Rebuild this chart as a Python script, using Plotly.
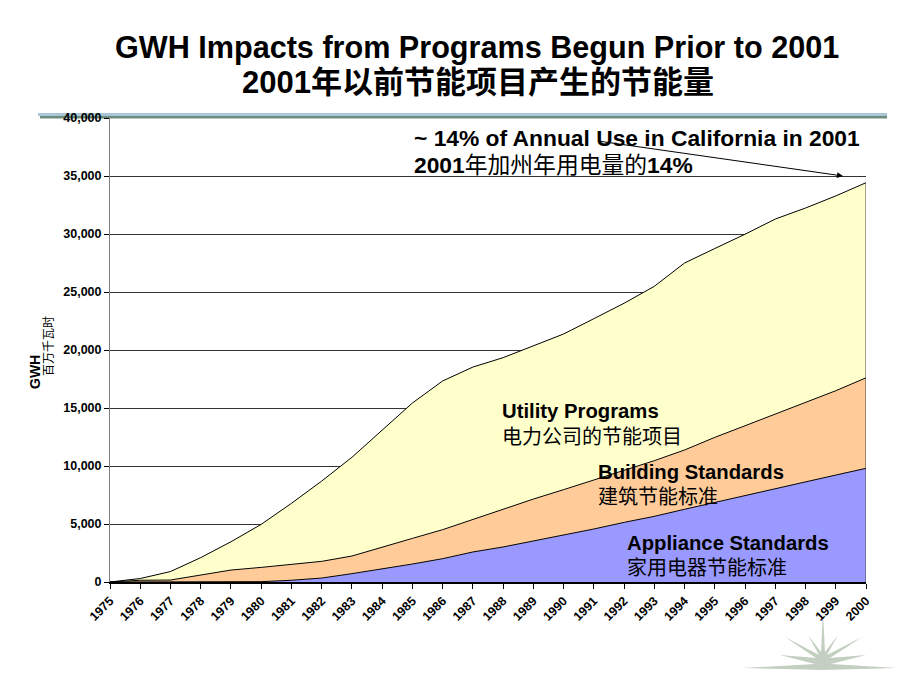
import plotly.graph_objects as go

years = list(range(1975, 2001))
appliance = [0, 0, 0, 0, 0, 30, 150, 340, 720, 1120, 1550, 2010, 2590, 3020, 3530,
             4050, 4570, 5140, 5660, 6270, 6870, 7470, 8050, 8620, 9220, 9800]
building = [0, 150, 170, 600, 1030, 1230, 1400, 1440, 1520, 1900, 2210, 2500, 2810,
            3280, 3620, 3910, 4220, 4490, 4800, 5110, 5600, 6000, 6430, 6870, 7270, 7800]
utility = [0, 150, 730, 1500, 2440, 3710, 5230, 6920, 8510, 10080, 11670, 12820, 13130,
           13040, 13220, 13420, 13910, 14400, 15030, 16120, 16280, 16510, 16810, 16750,
           16790, 16820]
y_ticks = [0, 5000, 10000, 15000, 20000, 25000, 30000, 35000, 40000]

FONT = "Liberation Sans, Arial, Noto Sans CJK SC, sans-serif"

W, H = 920, 690
L, R, T, B = 110, 866, 118, 582


def px(x, y):
    return (x - L) / (R - L), (B - y) / (B - T)


fig = go.Figure()
series = [
    ("Appliance Standards", appliance, "#9999FF"),
    ("Building Standards", building, "#FFCC99"),
    ("Utility Programs", utility, "#FFFFCC"),
]
for name, vals, col in series:
    fig.add_trace(go.Scatter(
        x=years, y=vals, name=name, mode="lines", stackgroup="one",
        fillcolor=col, line=dict(color="black", width=1), hoverinfo="skip"))

total_last = appliance[-1] + building[-1] + utility[-1]
fig.add_trace(go.Scatter(x=[years[-1], years[-1]], y=[0, total_last], mode="lines",
                         line=dict(color="#444444", width=1), hoverinfo="skip"))

shapes = []
# decorative top rule
x0, y0 = px(38, 113)
x1, y1 = px(887, 116)
shapes.append(dict(type="rect", xref="paper", yref="paper", x0=x0, x1=x1, y0=y0, y1=y1,
                   fillcolor="#A9C7D6", line=dict(width=0), layer="below"))
x0, y0 = px(40, 116)
x1, y1 = px(887, 118.5)
shapes.append(dict(type="rect", xref="paper", yref="paper", x0=x0, x1=x1, y0=y0, y1=y1,
                   fillcolor="#6E8C7C", line=dict(width=0), layer="below"))

# starburst decoration
pts = [(742, 668), (815, 664), (780, 655), (816, 658), (785, 637), (819, 655),
       (808, 635), (821, 652), (823, 612), (825, 652), (838, 635), (827, 655),
       (862, 637), (830, 658), (866, 655), (831, 664), (897, 668), (823, 670)]
path = ""
for i, (a, b) in enumerate(pts):
    u, v = px(a, b)
    path += ("M" if i == 0 else "L") + f"{u:.5f},{v:.5f} "
path += "Z"
shapes.append(dict(type="path", xref="paper", yref="paper", path=path,
                   fillcolor="#C3CFC0", line=dict(width=0), layer="below"))

ann = []


def text(x, y, s, size, anchor="left", angle=0):
    u, v = px(x, y)
    ann.append(dict(xref="paper", yref="paper", x=u, y=v, text=s, showarrow=False,
                    xanchor=anchor, yanchor="middle", textangle=angle,
                    font=dict(family=FONT, size=size, color="black")))


text(477, 47, "<b>GWH Impacts from Programs Begun Prior to 2001</b>", 30.6, "center")
text(478, 83, "<b>2001年以前节能项目产生的节能量</b>", 31, "center")
text(412, 138, "<b>~ 14% of Annual Use in California in 2001</b>", 22.8)
text(412, 165, "<b>2001</b>年加州年用电量的<b>14%</b>", 22.8)
text(500, 411, "<b>Utility Programs</b>", 20.3)
text(500, 437, "电力公司的节能项目", 20)
text(596, 472, "<b>Building Standards</b>", 20.3)
text(596, 497, "建筑节能标准", 20)
text(625, 543, "<b>Appliance Standards</b>", 20.3)
text(625, 568, "家用电器节能标准", 20)
text(35, 372, "<b>GWH</b>", 14, "center", -90)
text(49, 346, "百万千瓦时", 12, "center", -90)

hx, hy = px(843, 176)
ann.append(dict(xref="paper", yref="paper", x=hx, y=hy, axref="pixel", ayref="pixel",
                ax=598 - 843, ay=141 - 176, text="", showarrow=True, arrowhead=2,
                arrowsize=1.2, arrowwidth=1, arrowcolor="black"))

fig.update_layout(
    width=W, height=H, autosize=False,
    margin=dict(l=L, r=W - R, t=T, b=H - B, pad=0),
    paper_bgcolor="white", plot_bgcolor="rgba(0,0,0,0)",
    showlegend=False, hovermode=False,
    shapes=shapes, annotations=ann,
    xaxis=dict(range=[years[0], years[-1]], tickmode="array", tickvals=years,
               ticktext=[f"<b>{y}</b>" for y in years], tickangle=-45,
               tickfont=dict(family=FONT, size=12.5, color="black"),
               ticks="outside", ticklen=5, tickcolor="black",
               showline=True, linecolor="black", linewidth=1.5,
               showgrid=False, zeroline=False, fixedrange=True),
    yaxis=dict(range=[0, 40000], tickmode="array", tickvals=y_ticks,
               ticktext=[f"<b>{v:,}</b>" for v in y_ticks],
               tickfont=dict(family=FONT, size=12.5, color="black"),
               ticks="outside", ticklen=5, tickcolor="black",
               showline=True, linecolor="#808080", linewidth=1,
               showgrid=True, gridcolor="#333333", gridwidth=1,
               zeroline=False, fixedrange=True),
)

fig.write_html("out.html", config={"displayModeBar": False},
               post_script="document.body.style.margin='0';")
